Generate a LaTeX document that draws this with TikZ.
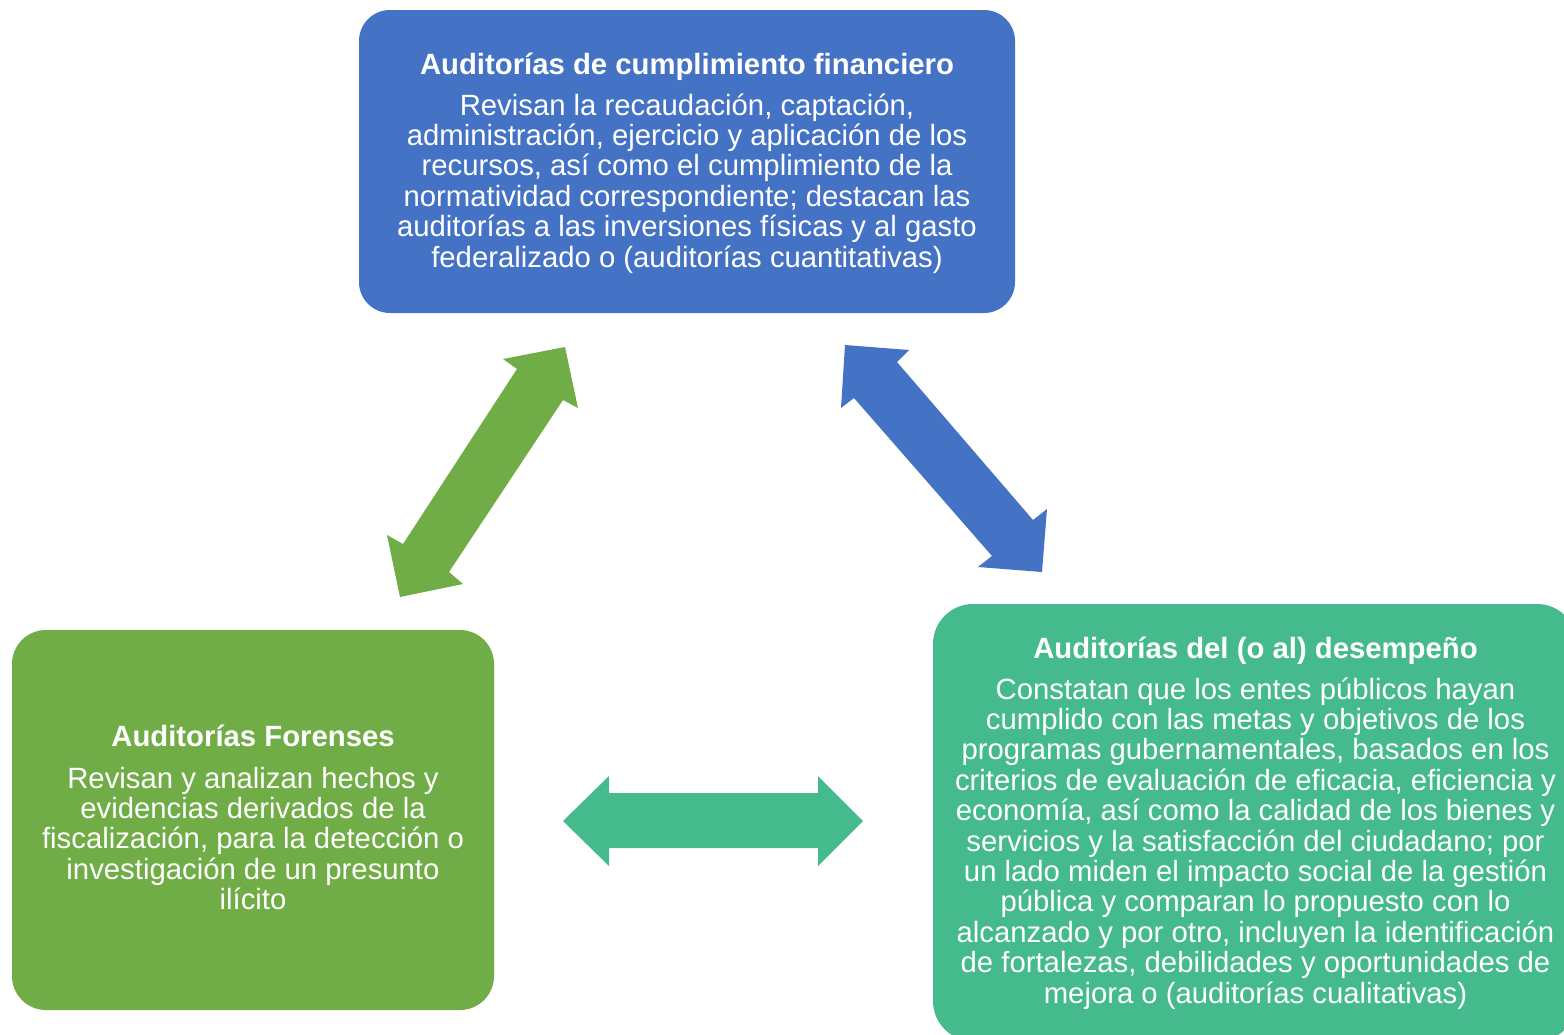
\documentclass[tikz,border=0pt]{standalone}
\usepackage{fontspec}
\setmainfont{Liberation Sans}
\definecolor{cblue}{HTML}{4472C4}
\definecolor{cgreen}{HTML}{70AD47}
\definecolor{cteal}{HTML}{45BA8D}
\tikzset{
  boxshape/.style={draw=none, fill=#1, rectangle, inner sep=0pt},
  ln/.style={anchor=base, text=white, inner sep=0pt, font=\fontsize{29.3}{30.4}\selectfont},
  hd/.style={ln, font=\fontsize{29.3}{30.4}\selectfont\bfseries},
  arr/.style={fill=#1, draw=none}
}
\begin{document}
\begin{tikzpicture}[x=1pt,y=-1pt]
\useasboundingbox (0,0) rectangle (1564,1034);
\clip (0,0) rectangle (1564,1034);
\fill[white] (0,0) rectangle (1564,1034);
% boxes
\node[boxshape=cblue, rounded corners=31pt, minimum width=656pt, minimum height=303pt] (topbox) at (687,161.5) {};
\node[boxshape=cgreen, rounded corners=34pt, minimum width=482pt, minimum height=380pt] (leftbox) at (253,820) {};
\node[boxshape=cteal, rounded corners=40pt, minimum width=644pt, minimum height=437pt] (rightbox) at (1255,822.5) {};
% top text
\node[hd] (t0) at (687,74) {Auditorías de cumplimiento financiero};
\foreach \l [count=\i] in {{Revisan la recaudación, captación,},{administración, ejercicio y aplicación de los},{recursos, así como el cumplimiento de la},{normatividad correspondiente; destacan las},{auditorías a las inversiones físicas y al gasto},{federalizado o (auditorías cuantitativas)}}
  \node[ln] (t\i) at (687,{115+30.4*(\i-1)}) {\l};
% left text
\node[hd] (l0) at (253,746) {Auditorías Forenses};
\foreach \l [count=\i] in {{Revisan y analizan hechos y},{evidencias derivados de la},{fiscalización, para la detección o},{investigación de un presunto},{ilícito}}
  \node[ln] (l\i) at (253,{788+30.4*(\i-1)}) {\l};
% right text
\node[hd] (r0) at (1255.5,658) {Auditorías del (o al) desempeño};
\foreach \l [count=\i] in {{Constatan que los entes públicos hayan},{cumplido con las metas y objetivos de los},{programas gubernamentales, basados en los},{criterios de evaluación de eficacia, eficiencia y},{economía, así como la calidad de los bienes y},{servicios y la satisfacción del ciudadano; por},{un lado miden el impacto social de la gestión},{pública y comparan lo propuesto con lo},{alcanzado y por otro, incluyen la identificación},{de fortalezas, debilidades y oportunidades de},{mejora o (auditorías cualitativas)}}
  \node[ln] (r\i) at (1255.5,{699+30.4*(\i-1)}) {\l};
% arrows
\fill[arr=cgreen] (565,347) -- (578,408) -- (563,400) -- (449,572) -- (463,584) -- (400,597) -- (387,535) -- (403,544) -- (517,369) -- (503,359) -- cycle;
\fill[arr=cblue] (845,345) -- (909,350) -- (897,362) -- (1033,520) -- (1047,509) -- (1042,572) -- (978,567) -- (992,556) -- (854,398) -- (841,408) -- cycle;
\fill[arr=cteal] (563,821) -- (609,776) -- (609,793) -- (818,793) -- (818,776) -- (863,821) -- (818,866) -- (818,848) -- (609,848) -- (609,866) -- cycle;
\end{tikzpicture}
\end{document}
